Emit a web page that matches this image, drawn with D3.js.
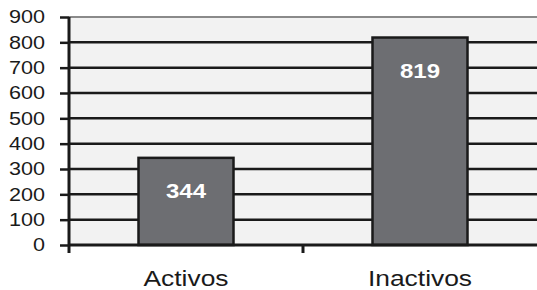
<!DOCTYPE html>
<html>
<head>
<meta charset="utf-8">
<script src="https://cdn.jsdelivr.net/npm/d3@7"></script>
<style>
  body { margin: 0; background: #fff; }
  text { font-family: "Liberation Sans", Arial, sans-serif; }
</style>
</head>
<body>
<div id="chart"></div>
<script>
// data
var categories = ["Activos", "Inactivos"];
var values     = [344, 819];
var yTicks     = [0, 100, 200, 300, 400, 500, 600, 700, 800, 900];

var chart_width  = 537;
var chart_height = 290;
var margin = {left: 69, right: 0, top: 17, bottom: 45};
var stretch = 1.2;   // the reference text is drawn a bit wide

var svg = d3.select("#chart")
    .append("svg")
    .attr("width", chart_width)
    .attr("height", chart_height);

var x = d3.scaleBand()
    .domain(categories)
    .range([margin.left, chart_width - margin.right])
    .paddingInner(0.594)
    .paddingOuter(0.297);

var y = d3.scaleLinear()
    .domain([0, 900])
    .range([chart_height - margin.bottom, margin.top]);

// plot background
svg.append("rect")
    .attr("x", margin.left)
    .attr("y", y(900))
    .attr("width", chart_width - margin.left)
    .attr("height", y(0) - y(900))
    .attr("fill", "#f2f2f2");

// top border
svg.append("line")
    .attr("x1", margin.left).attr("x2", chart_width)
    .attr("y1", y(900)).attr("y2", y(900))
    .attr("stroke", "#8a8a8a")
    .attr("stroke-width", 2);

// gridlines
svg.selectAll(".grid")
    .data(yTicks.filter(function(d){ return d > 0 && d < 900; }))
    .enter()
    .append("line")
    .attr("class", "grid")
    .attr("x1", margin.left).attr("x2", chart_width)
    .attr("y1", function(d){ return y(d); })
    .attr("y2", function(d){ return y(d); })
    .attr("stroke", "#1a1a1a")
    .attr("stroke-width", 2.5);

// y axis
var yAxis = d3.axisLeft(y).tickValues(yTicks).tickSize(9);
var gy = svg.append("g")
    .attr("transform", "translate(" + margin.left + ",0)")
    .call(yAxis);
gy.select(".domain").remove();
gy.selectAll(".tick line").attr("stroke", "#1a1a1a").attr("stroke-width", 2.5);
gy.selectAll(".tick text")
    .attr("x", 0)
    .attr("transform", "translate(-24,0) scale(" + stretch + ",1)")
    .attr("fill", "#1a1a1a")
    .style("font-size", "18px");
gy.append("line")
    .attr("x1", 0).attr("x2", 0)
    .attr("y1", y(900)).attr("y2", y(0) + 8)
    .attr("stroke", "#1a1a1a")
    .attr("stroke-width", 3);

// bars
svg.selectAll(".bar")
    .data(values)
    .enter()
    .append("rect")
    .attr("class", "bar")
    .attr("x", function(d, i){ return x(categories[i]); })
    .attr("y", function(d){ return y(d); })
    .attr("width", x.bandwidth())
    .attr("height", function(d){ return y(0) - y(d); })
    .attr("fill", "#6d6e72")
    .attr("stroke", "#1a1a1a")
    .attr("stroke-width", 2.5);

// x axis line and ticks
svg.append("line")
    .attr("x1", margin.left).attr("x2", chart_width)
    .attr("y1", y(0)).attr("y2", y(0))
    .attr("stroke", "#1a1a1a")
    .attr("stroke-width", 3);
var step = x.step();
svg.append("line")
    .attr("x1", margin.left + step).attr("x2", margin.left + step)
    .attr("y1", y(0)).attr("y2", y(0) + 8)
    .attr("stroke", "#1a1a1a")
    .attr("stroke-width", 3);

// value labels
svg.selectAll(".val")
    .data(values)
    .enter()
    .append("text")
    .attr("class", "val")
    .attr("transform", function(d, i){
      return "translate(" + (x(categories[i]) + x.bandwidth()/2) + "," + (y(d) + 40) + ") scale(" + stretch + ",1)";
    })
    .attr("text-anchor", "middle")
    .attr("fill", "#fff")
    .style("font-size", "20px")
    .style("font-weight", "bold")
    .text(function(d){ return d; });

// category labels
svg.selectAll(".cat")
    .data(categories)
    .enter()
    .append("text")
    .attr("class", "cat")
    .attr("transform", function(d){
      return "translate(" + (x(d) + x.bandwidth()/2) + ",286) scale(" + stretch + ",1)";
    })
    .attr("text-anchor", "middle")
    .attr("fill", "#1a1a1a")
    .style("font-size", "22px")
    .text(function(d){ return d; });
</script>
</body>
</html>
